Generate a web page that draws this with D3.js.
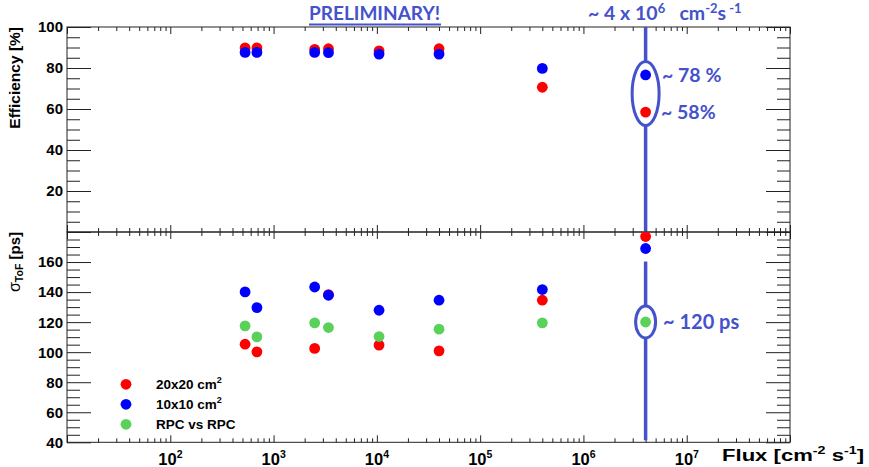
<!DOCTYPE html>
<html>
<head>
<meta charset="utf-8">
<script src="https://cdn.jsdelivr.net/npm/d3@7"></script>
<style>
  html, body { margin: 0; padding: 0; background: #fff; }
  svg { display: block; }
  .tl { font-family: "Liberation Sans", Arial, sans-serif; font-weight: bold; fill: #000; }
  .ann { font-family: Lato, "Open Sans", sans-serif; font-weight: bold; fill: #4452CC; white-space: pre; }
</style>
</head>
<body>
<svg id="chart" width="869" height="467"></svg>
<script>
// ---------------- data ----------------
const flux       = [530, 690, 2500, 3400, 10500, 40000, 400000, 4000000];
const eff20x20   = [89.8, 89.8, 89.1, 89.4, 88.4, 89.4, 70.6, 58.5];
const eff10x10   = [87.6, 87.6, 87.6, 87.5, 86.8, 86.8, 79.8, 76.6];
const sig20x20   = [105.3, 100.2, 102.5, 138.3, 104.7, 100.9, 134.6, 177];
const sig10x10   = [140.1, 129.7, 143.4, 137.9, 127.9, 134.6, 141.7, 169];
const sigRPC     = [117.5, 110.2, 119.5, 116.4, 110.4, 115.3, 119.5, 120.1];
const seriesNames = ["20x20 cm", "10x10 cm", "RPC vs RPC"];
const seriesColors = ["#FF0000", "#0000FF", "#5AD25A"];
const effTickLabels = [20, 40, 60, 80, 100];
const sigTickLabels = [40, 60, 80, 100, 120, 140, 160];
const xDecadeLabels = [2, 3, 4, 5, 6, 7];
const highFlux = 4e6;

// ---------------- layout ----------------
const svg = d3.select("#chart");
const L = 67, R = 790, T = 27, MID = 232, B = 442.3;

const x = d3.scaleLog().domain([10, 1e8]).range([L, R]);
const yTop = d3.scaleLinear().domain([0, 100]).range([MID, T]);
const yBot = d3.scaleLinear().domain([40, 180]).range([B, MID]);

const decades = d3.range(1, 9).map(e => Math.pow(10, e));
const minorX = [];
for (let e = 1; e < 8; e++) for (let m = 2; m <= 9; m++) minorX.push(m * Math.pow(10, e));

function tickAxis(g, axis) {
  g.call(axis);
  g.select(".domain").remove();
  g.selectAll(".tick line").attr("stroke", "#222").attr("stroke-width", 1);
  g.selectAll(".tick text").remove();
}

function panel(y, yMin, yMax, top, bottom) {
  const minorY = d3.range(yMin, yMax + 0.001, 5).filter(v => v % 20 !== 0);
  const majorY = d3.range(Math.ceil(yMin / 20) * 20, yMax + 0.001, 20);
  tickAxis(svg.append("g").attr("transform", `translate(${L},0)`),
    d3.axisRight(y).tickValues(majorY).tickSize(24));
  tickAxis(svg.append("g").attr("transform", `translate(${L},0)`),
    d3.axisRight(y).tickValues(minorY).tickSize(13));
  tickAxis(svg.append("g").attr("transform", `translate(${R},0)`),
    d3.axisLeft(y).tickValues(majorY).tickSize(24));
  tickAxis(svg.append("g").attr("transform", `translate(${R},0)`),
    d3.axisLeft(y).tickValues(minorY).tickSize(13));
  tickAxis(svg.append("g").attr("transform", `translate(0,${top})`),
    d3.axisBottom(x).tickValues(decades).tickSize(7));
  tickAxis(svg.append("g").attr("transform", `translate(0,${top})`),
    d3.axisBottom(x).tickValues(minorX).tickSize(4));
  tickAxis(svg.append("g").attr("transform", `translate(0,${bottom})`),
    d3.axisTop(x).tickValues(decades).tickSize(7));
  tickAxis(svg.append("g").attr("transform", `translate(0,${bottom})`),
    d3.axisTop(x).tickValues(minorX).tickSize(4));
  svg.append("rect").attr("x", L).attr("y", top).attr("width", R - L).attr("height", bottom - top)
    .attr("fill", "none").attr("stroke", "#222").attr("stroke-width", 1);
}

panel(yTop, 0, 100, T, MID);
panel(yBot, 40, 180, MID, B);

// y tick labels
svg.append("g").selectAll("text").data(effTickLabels).join("text")
  .attr("class", "tl").attr("x", 63).attr("y", d => yTop(d)).attr("dy", "0.36em")
  .attr("text-anchor", "end").attr("font-size", 15).text(d => d);
svg.append("g").selectAll("text").data(sigTickLabels).join("text")
  .attr("class", "tl").attr("x", 63).attr("y", d => yBot(d)).attr("dy", "0.36em")
  .attr("text-anchor", "end").attr("font-size", 15).text(d => d);

// x tick labels
const xl = svg.append("g").selectAll("text").data(xDecadeLabels).join("text")
  .attr("class", "tl").attr("x", d => x(Math.pow(10, d)) - 12).attr("y", 465)
  .attr("font-size", 16.5);
xl.append("tspan").text("10");
xl.append("tspan").attr("font-size", 10.5).attr("dy", -7).text(d => d);

// axis titles
svg.append("text").attr("class", "tl").attr("font-size", 15.5)
  .attr("transform", `translate(20,${T}) rotate(-90)`).attr("text-anchor", "end")
  .text("Efficiency [%]");
const st = svg.append("text").attr("class", "tl").attr("font-size", 15)
  .attr("transform", `translate(20,${MID}) rotate(-90)`).attr("text-anchor", "end");
st.append("tspan").attr("font-weight", "normal").attr("font-size", 16).text("σ");
st.append("tspan").attr("font-size", 10.5).attr("dy", 3).text("ToF");
st.append("tspan").attr("dy", -3).text(" [ps]");

const ft = svg.append("text").attr("class", "tl").attr("font-size", 17)
  .attr("transform", "translate(722,461) scale(1.3,1)");
ft.append("tspan").text("Flux [cm");
ft.append("tspan").attr("font-size", 11).attr("dy", -7).text("-2");
ft.append("tspan").attr("dy", 7).text(" s");
ft.append("tspan").attr("font-size", 11).attr("dy", -7).text("-1");
ft.append("tspan").attr("dy", 7).text("]");

// clips
const defs = svg.append("defs");
defs.append("clipPath").attr("id", "clipTop").append("rect")
  .attr("x", L).attr("y", T).attr("width", R - L).attr("height", MID - T);
defs.append("clipPath").attr("id", "clipBot").append("rect")
  .attr("x", L).attr("y", MID).attr("width", R - L).attr("height", B - MID);

// annotation line & ellipses (behind dots)
const annColor = "#4452CC";
const xh = x(highFlux);
const hi = flux.indexOf(highFlux);
const eTopCy = yTop((eff20x20[hi] + eff10x10[hi]) / 2);
const eBotCy = yBot(sigRPC[hi]);
const ann = svg.append("g");
const segs = [
  [T, eTopCy - 32], [eTopCy + 32, MID - 1],
  [yBot(sig10x10[hi]) + 13, eBotCy - 16], [eBotCy + 16, B - 2]
];
ann.selectAll("line").data(segs).join("line")
  .attr("x1", xh).attr("x2", xh).attr("y1", d => d[0]).attr("y2", d => d[1])
  .attr("stroke", annColor).attr("stroke-width", 3.5);
ann.append("ellipse").attr("cx", xh).attr("cy", eTopCy).attr("rx", 13.5).attr("ry", 32)
  .attr("fill", "none").attr("stroke", annColor).attr("stroke-width", 3);
ann.append("ellipse").attr("cx", xh).attr("cy", eBotCy).attr("rx", 10).attr("ry", 16)
  .attr("fill", "none").attr("stroke", annColor).attr("stroke-width", 3);

// dots
const r = 5.4;
function dots(clip, y, vals, color) {
  svg.append("g").attr("clip-path", `url(#${clip})`).selectAll("circle")
    .data(flux.map((f, i) => [f, vals[i]])).join("circle")
    .attr("cx", d => x(d[0])).attr("cy", d => y(d[1])).attr("r", r).attr("fill", color);
}
dots("clipTop", yTop, eff20x20, seriesColors[0]);
dots("clipTop", yTop, eff10x10, seriesColors[1]);
dots("clipBot", yBot, sig20x20, seriesColors[0]);
dots("clipBot", yBot, sig10x10, seriesColors[1]);
dots("clipBot", yBot, sigRPC, seriesColors[2]);

// legend
const lg = svg.append("g").selectAll("g").data(seriesNames).join("g")
  .attr("transform", (d, i) => `translate(126,${384.3 + i * 20})`);
lg.append("circle").attr("r", r).attr("fill", (d, i) => seriesColors[i]);
const lt = lg.append("text").attr("class", "tl").attr("x", 30).attr("y", 5).attr("font-size", 13.5);
lt.append("tspan").text(d => d);
lt.filter((d, i) => i < 2).append("tspan").attr("font-size", 9).attr("dy", -6).text("2");

// text annotations
svg.append("text").attr("class", "ann").attr("x", 309).attr("y", 20).attr("font-size", 19)
  .text("PRELIMINARY!");
svg.append("line").attr("x1", 309).attr("x2", 441).attr("y1", 24.5).attr("y2", 24.5)
  .attr("stroke", annColor).attr("stroke-width", 2);

const ft2 = svg.append("text").attr("class", "ann").attr("x", 588).attr("y", 20).attr("font-size", 19.5);
ft2.append("tspan").text("~ 4 x 10");
ft2.append("tspan").attr("font-size", 13).attr("dy", -7).text("6");
ft2.append("tspan").attr("dy", 7).text("   cm");
ft2.append("tspan").attr("font-size", 13).attr("dy", -7).text("-2");
ft2.append("tspan").attr("dy", 7).text("s");
ft2.append("tspan").attr("font-size", 13).attr("dy", -7).text(" -1");

svg.append("text").attr("class", "ann").attr("x", 662).attr("y", yTop(eff10x10[hi]) + 7)
  .attr("font-size", 19.5).text("~ 78 %");
svg.append("text").attr("class", "ann").attr("x", 661).attr("y", yTop(eff20x20[hi]) + 7.3)
  .attr("font-size", 19.5).text("~ 58%");
svg.append("text").attr("class", "ann").attr("x", 663).attr("y", eBotCy + 7.5)
  .attr("font-size", 20).text("~ 120 ps");
</script>
</body>
</html>
